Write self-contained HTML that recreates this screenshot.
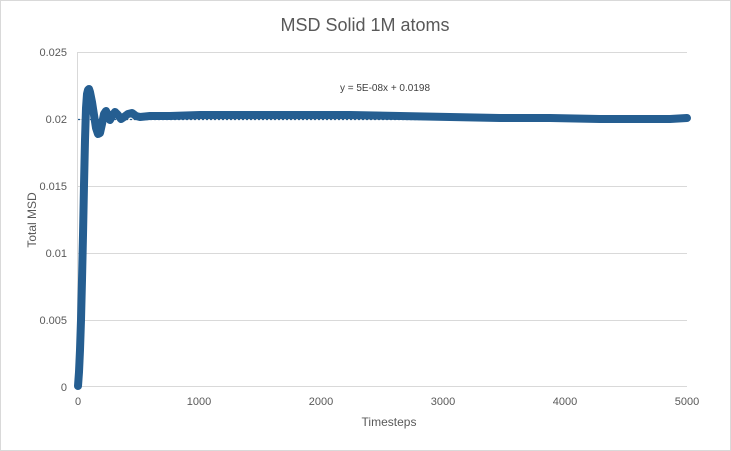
<!DOCTYPE html>
<html><head><style>
body{margin:0;background:#fff}
svg{display:block;font-family:"Liberation Sans",sans-serif}
</style></head><body>
<svg width="731" height="451" viewBox="0 0 731 451">
<rect x="0.5" y="0.5" width="730" height="450" fill="#fff" stroke="#d9d9d9"/>
<text x="365" y="31" text-anchor="middle" font-size="18" fill="#595959">MSD Solid 1M atoms</text>
<g stroke="#d9d9d9" stroke-width="1">
<line x1="78" y1="52.5" x2="687" y2="52.5"/>
<line x1="78" y1="119.5" x2="687" y2="119.5"/>
<line x1="78" y1="186.5" x2="687" y2="186.5"/>
<line x1="78" y1="253.5" x2="687" y2="253.5"/>
<line x1="78" y1="320.5" x2="687" y2="320.5"/>
<line x1="78" y1="386.5" x2="687" y2="386.5"/>
<line x1="77.5" y1="52" x2="77.5" y2="387"/>
</g>
<g font-size="11" fill="#595959" text-anchor="end">
<text x="67" y="56">0.025</text>
<text x="67" y="123">0.02</text>
<text x="67" y="190">0.015</text>
<text x="67" y="257">0.01</text>
<text x="67" y="324">0.005</text>
<text x="67" y="391">0</text>
</g>
<g font-size="11" fill="#595959" text-anchor="middle">
<text x="78" y="405">0</text>
<text x="199" y="405">1000</text>
<text x="321" y="405">2000</text>
<text x="443" y="405">3000</text>
<text x="565" y="405">4000</text>
<text x="687" y="405">5000</text>
</g>
<text x="389" y="426" text-anchor="middle" font-size="12" fill="#595959">Timesteps</text>
<text transform="translate(36,220) rotate(-90)" text-anchor="middle" font-size="12" fill="#595959">Total MSD</text>
<line x1="78" y1="119.5" x2="687" y2="119.5" stroke="#255e91" stroke-width="1.3" stroke-dasharray="2,2"/>
<polyline fill="none" stroke="#255e91" stroke-width="8" stroke-linejoin="round" stroke-linecap="round"
points="78,386 79,372 80,350 81,320 82,280 83,235 84,185 85,140 86,108 87,94 88,90 89,89 90,92 92,102 94,115 96,128 98,134 100,133 102,124 104,114 106,111 108,115 110,120 112,116 115,112 118,115 121,119 124,117 128,114 132,113 136,116 140,117 150,116 170,116 200,115 250,115 300,115 350,115 400,116 450,117 500,118 550,118 600,119 650,119 670,119 687,118"/>
<text x="385" y="91" text-anchor="middle" font-size="10" fill="#404040">y = 5E-08x + 0.0198</text>
</svg>
</body></html>
